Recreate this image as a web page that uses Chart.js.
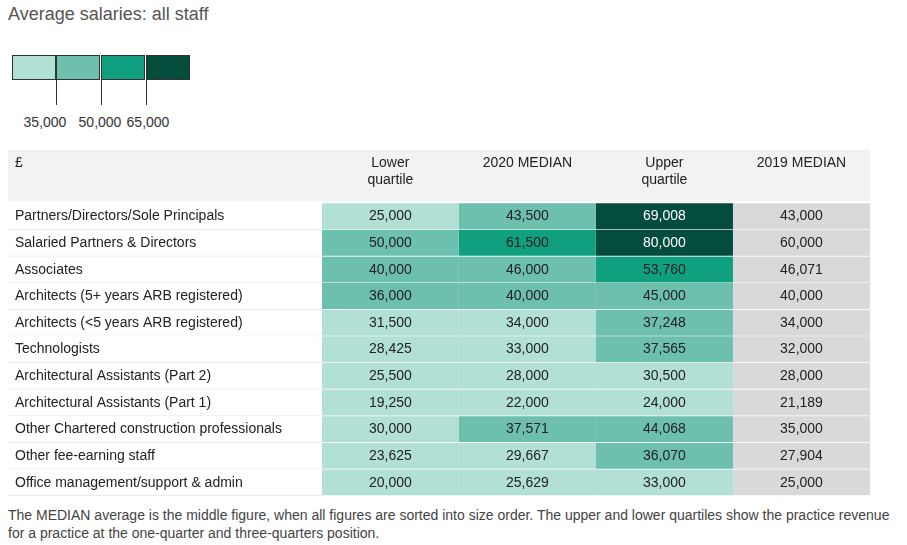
<!DOCTYPE html>
<html><head><meta charset="utf-8">
<script src="https://cdn.jsdelivr.net/npm/chart.js@4/dist/chart.umd.min.js"></script>
<style>
body{margin:0;width:907px;height:545px;background:#fff;font-family:"Liberation Sans",Arial,sans-serif;position:relative;overflow:hidden}
#title{position:absolute;left:8px;top:4px;font-size:18px;color:#555}
.lb{position:absolute;top:55px;width:44px;height:25px;border:1px solid #333;box-sizing:border-box}
.tk{position:absolute;top:80px;width:1px;height:25px;background:#333}
.tl{position:absolute;top:114px;font-size:14px;color:#333;transform:translateX(-50%)}
#foot{position:absolute;left:8px;top:506px;font-size:14px;color:#444;line-height:18px;width:890px}
#wrap{position:absolute;left:0;top:150px;width:907px;height:346px}
</style></head><body>
<div id="title">Average salaries: all staff</div>
<div class="lb" style="left:12px;background:#b3e0d4"></div>
<div class="lb" style="left:56px;background:#6dbfae"></div>
<div class="lb" style="left:101px;background:#11a07f"></div>
<div class="lb" style="left:146px;background:#044d3c"></div>
<div class="tk" style="left:56px"></div><div class="tk" style="left:101px"></div><div class="tk" style="left:146px"></div>
<div class="tl" style="left:45px">35,000</div><div class="tl" style="left:100px">50,000</div><div class="tl" style="left:148px">65,000</div>
<div id="wrap"><canvas id="c"></canvas></div>
<div id="foot">The MEDIAN average is the middle figure, when all figures are sorted into size order. The upper and lower quartiles show the practice revenue for a practice at the one-quarter and three-quarters position.</div>
<script>
const rows=["Partners/Directors/Sole Principals","Salaried Partners & Directors","Associates","Architects (5+ years ARB registered)","Architects (<5 years ARB registered)","Technologists","Architectural Assistants (Part 2)","Architectural Assistants (Part 1)","Other Chartered construction professionals","Other fee-earning staff","Office management/support & admin"];
const columns=["Lower\nquartile","2020 MEDIAN","Upper\nquartile","2019 MEDIAN"];
const lowerQuartile=[25000,50000,40000,36000,31500,28425,25500,19250,30000,23625,20000];
const median2020=[43500,61500,46000,40000,34000,33000,28000,22000,37571,29667,25629];
const upperQuartile=[69008,80000,53760,45000,37248,37565,30500,24000,44068,36070,33000];
const median2019=[43000,60000,46071,40000,34000,32000,28000,21189,35000,27904,25000];
const series=[lowerQuartile,median2020,upperQuartile,median2019];
const labels=["h1","h2",...rows];
function col(v){return v>=65000?"#044d3c":v>50000?"#11a07f":v>=35000?"#6dbfae":"#b3e0d4";}
const LW=-2.29;
const datasets=[{data:labels.map((l,i)=>i<2?null:[LW,0]),backgroundColor:"#fff",borderColor:"#e6e6e6",borderWidth:{bottom:1},borderSkipped:false,grouped:false,barPercentage:1,categoryPercentage:1}];
series.forEach((s,c)=>datasets.push({data:labels.map((l,i)=>i<2?null:[c,c+1]),vals:s,
 backgroundColor:labels.map((l,i)=>i<2?null:(c==3?"#d9d9db":col(s[i-2]))),
 borderColor:"#fff",borderWidth:{bottom:1},borderSkipped:false,grouped:false,barPercentage:1,categoryPercentage:1}));
const plug={id:"t",
 beforeDatasetsDraw(ch){const{ctx,scales:{x,y}}=ch;const t=y.getPixelForValue(0)-(y.getPixelForValue(1)-y.getPixelForValue(0))/2;const b=y.getPixelForValue(1)+(y.getPixelForValue(1)-y.getPixelForValue(0))/2;
  ctx.fillStyle="#f2f2f2";ctx.fillRect(x.getPixelForValue(LW),t,x.getPixelForValue(4)-x.getPixelForValue(LW),b-t-2);},
 afterDatasetsDraw(ch){const{ctx,scales:{x,y}}=ch;const t=y.getPixelForValue(0)-(y.getPixelForValue(1)-y.getPixelForValue(0))/2;
  ctx.save();ctx.font="14px 'Liberation Sans', Arial";ctx.fillStyle="#222";ctx.textBaseline="middle";
  ctx.textAlign="left";ctx.fillText("£",x.getPixelForValue(LW)+7,t+13);
  ctx.textAlign="center";columns.forEach((c,i)=>{c.split("\n").forEach((ln,j)=>ctx.fillText(ln,x.getPixelForValue(i+0.5),t+13+j*17));});
  rows.forEach((r,i)=>{const yy=y.getPixelForValue(i+2);ctx.textAlign="left";ctx.fillStyle="#222";ctx.fillText(r,x.getPixelForValue(LW)+7,yy);
   series.forEach((s,c)=>{ctx.textAlign="center";ctx.fillStyle=(c<3&&s[i]>=65000)?"#fff":"#222";ctx.fillText(s[i].toLocaleString("en-GB"),x.getPixelForValue(c+0.5),yy);});});
  ctx.restore();}};
new Chart(document.getElementById("c"),{type:"bar",data:{labels,datasets},
 options:{indexAxis:"y",responsive:true,maintainAspectRatio:false,animation:false,
  layout:{padding:{left:8,right:37,top:0,bottom:0}},
  plugins:{legend:{display:false},tooltip:{enabled:false}},
  scales:{x:{type:"linear",min:LW,max:4,display:false},y:{display:false,offset:true}}},plugins:[plug]});
</script></body></html>
